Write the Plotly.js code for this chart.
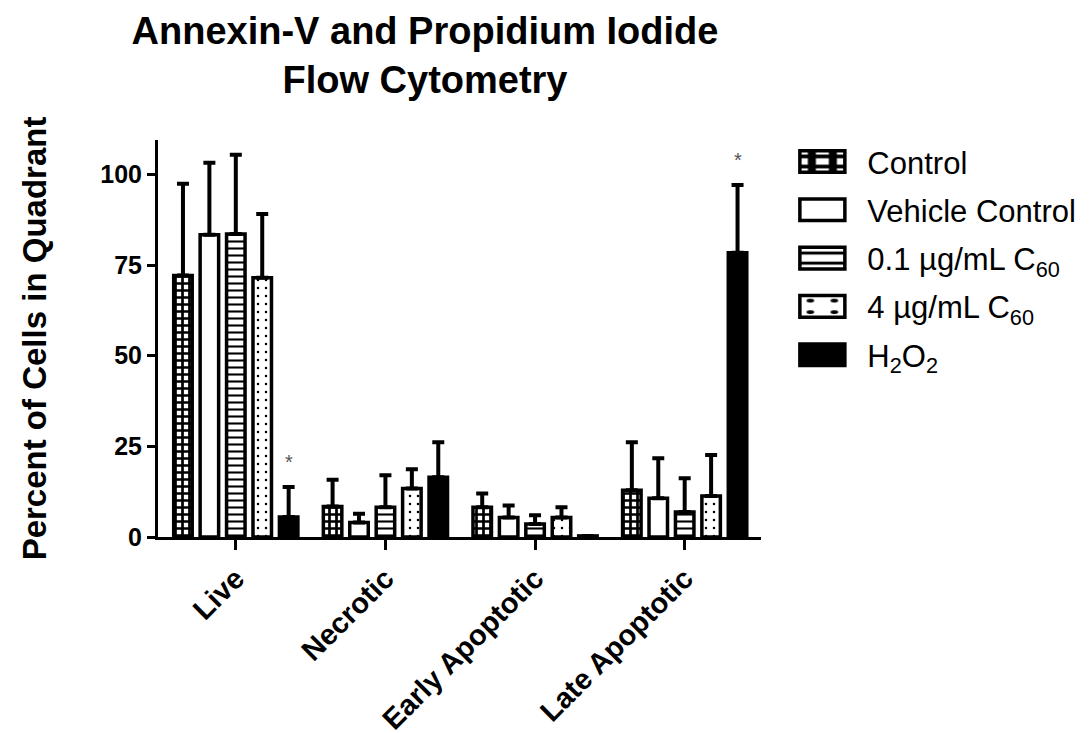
<!DOCTYPE html>
<html>
<head>
<meta charset="utf-8">
<script src="https://cdn.plot.ly/plotly-3.0.1.min.js"></script>
<style>
  html, body { margin: 0; padding: 0; background: #fff; }
  #chart { width: 1092px; height: 733px; }
</style>
</head>
<body>
<div id="chart"></div>
<script>
// Quadrant categories from the Annexin-V / PI gating
const categories = ['Live', 'Necrotic', 'Early Apoptotic', 'Late Apoptotic'];

// Mean percent of cells per quadrant, per treatment
const control        = [72.1, 8.4, 8.2, 12.9];
const vehicle        = [83.4, 4.0, 5.4, 10.7];
const c60Low         = [83.6, 8.2, 3.6, 6.9];
const c60High        = [71.5, 13.4, 5.4, 11.3];
const h2o2           = [5.5, 16.5, 0.3, 78.4];

// Upper error (SD) for each mean
const controlErr     = [25.3, 7.4, 3.8, 13.2];
const vehicleErr     = [19.8, 2.4, 3.3, 11.0];
const c60LowErr      = [21.8, 8.8, 2.4, 9.3];
const c60HighErr     = [17.6, 5.3, 2.8, 11.3];
const h2o2Err        = [8.3, 9.6, 0.0, 18.7];

// Significance flags for the H2O2 group
const h2o2Signif     = ['*', '', '', '*'];

const seriesNames = [
  'Control',
  'Vehicle Control',
  '0.1 µg/mL C<sub>60</sub>',
  '4 µg/mL C<sub>60</sub>',
  'H<sub>2</sub>O<sub>2</sub>'
];

const FONT = 'Liberation Sans, Arial, sans-serif';
const BARGAP = 0.117;
const BARGROUPGAP = 0.3;

const patterns = [
  { shape: '+', fgcolor: '#000', bgcolor: '#fff', size: 7, solidity: 0.62, fillmode: 'replace' },
  { shape: '',  bgcolor: '#fff' },
  { shape: '-', fgcolor: '#000', bgcolor: '#fff', size: 7, solidity: 0.3, fillmode: 'replace' },
  { shape: '.', fgcolor: '#000', bgcolor: '#fff', size: 8, solidity: 0.08, fillmode: 'replace' },
  { shape: '' }
];
const fills = ['#000', '#fff', '#fff', '#fff', '#000'];
const values = [control, vehicle, c60Low, c60High, h2o2];
const errors = [controlErr, vehicleErr, c60LowErr, c60HighErr, h2o2Err];

const traces = values.map((v, i) => ({
  type: 'bar',
  name: seriesNames[i],
  x: categories,
  y: v,
  legendgroup: 'g' + i,
  marker: {
    color: fills[i],
    line: { color: '#000', width: 3.5 },
    pattern: patterns[i]
  },
  error_y: {
    type: 'data',
    symmetric: false,
    array: errors[i],
    arrayminus: v.map(() => 0),
    color: '#000',
    thickness: 4,
    width: 6
  },
  hoverinfo: 'skip'
}));

// Star markers above the H2O2 error bars, shifted onto the H2O2 bar slot
const nSeries = values.length;
const slot = (1 - BARGAP) / nSeries;
const h2o2Offset = (nSeries - 1 - (nSeries - 1) / 2) * slot;
const annotations = [];
categories.forEach((c, i) => {
  if (h2o2Signif[i]) {
    annotations.push({
      x: i + h2o2Offset,
      y: h2o2[i] + h2o2Err[i],
      xref: 'x', yref: 'y',
      text: h2o2Signif[i],
      showarrow: false,
      yanchor: 'bottom',
      yshift: 12,
      font: { family: FONT, size: 20, color: '#555' }
    });
  }
});

const layout = {
  width: 1092,
  height: 733,
  paper_bgcolor: '#fff',
  plot_bgcolor: '#fff',
  margin: { l: 158, r: 330, t: 140, b: 196 },
  barmode: 'group',
  bargap: BARGAP,
  bargroupgap: BARGROUPGAP,
  font: { family: FONT, color: '#000' },
  title: {
    text: 'Annexin-V and Propidium Iodide<br>Flow Cytometry',
    font: { family: FONT, size: 38, weight: 'bold', color: '#000' },
    xref: 'container', x: 425 / 1092, xanchor: 'center',
    yref: 'container', y: 0.94, yanchor: 'top'
  },
  xaxis: {
    type: 'category',
    range: [-0.52, 3.51],
    showline: true, linecolor: '#000', linewidth: 3,
    ticks: 'outside', ticklen: 10, tickwidth: 3, tickcolor: '#000',
    tickangle: -45,
    tickfont: { family: FONT, size: 29, weight: 'bold', color: '#000' },
    showgrid: false, zeroline: false, fixedrange: true
  },
  yaxis: {
    range: [0, 109.5],
    tickvals: [0, 25, 50, 75, 100],
    showline: true, linecolor: '#000', linewidth: 3,
    ticks: 'outside', ticklen: 8, tickwidth: 3, tickcolor: '#000',
    tickfont: { family: FONT, size: 25, weight: 'bold', color: '#000' },
    showgrid: false, zeroline: false, fixedrange: true,
    title: {
      text: 'Percent of Cells in Quadrant',
      font: { family: FONT, size: 33, weight: 'bold', color: '#000' },
      standoff: 44
    }
  },
  legend: {
    x: 1.042, xanchor: 'left',
    y: 1.013, yanchor: 'top',
    font: { family: FONT, size: 31, color: '#000' },
    tracegroupgap: 5,
    itemwidth: 70,
    bgcolor: 'rgba(0,0,0,0)'
  },
  annotations: annotations,
  showlegend: true
};

Plotly.newPlot('chart', traces, layout, { displayModeBar: false, staticPlot: true }).then(gd => {
  // Widen the legend swatches into boxes to the left of each label
  gd.querySelectorAll('.legend .legendpoints path').forEach(p => {
    const t = p.getAttribute('transform') || '';
    p.setAttribute('transform', t + ' translate(-5,0) scale(3.75,1.8)');
    p.setAttribute('vector-effect', 'non-scaling-stroke');
  });
});
</script>
</body>
</html>
